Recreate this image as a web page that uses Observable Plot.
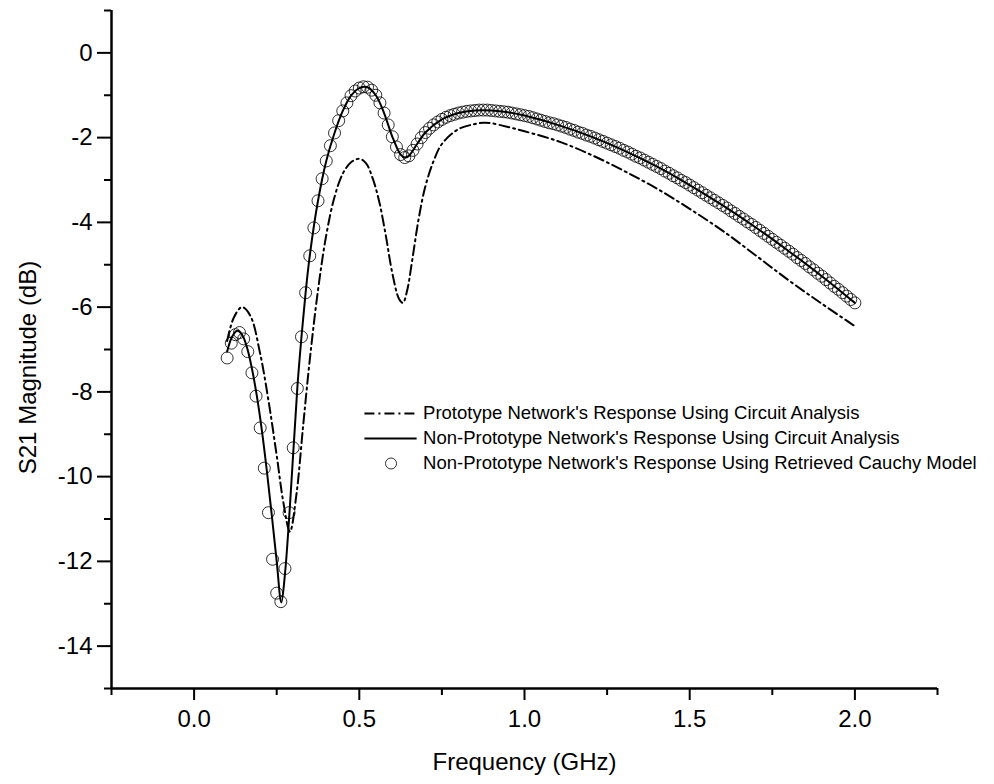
<!DOCTYPE html>
<html><head><meta charset="utf-8">
<script src="https://cdn.jsdelivr.net/npm/d3@7"></script>
<script src="https://cdn.jsdelivr.net/npm/@observablehq/plot@0.6"></script>
<style>
html,body{margin:0;padding:0;background:#fff;}
</style>
</head><body>
<div id="chart"></div>
<script>
// ---- data ----
const xTicksMajor = [0, 0.5, 1.0, 1.5, 2.0];
const xTicksMinor = [-0.25, 0.25, 0.75, 1.25, 1.75, 2.25];
const yTicksMajor = [0, -2, -4, -6, -8, -10, -12, -14];
const yTicksMinor = [1, -1, -3, -5, -7, -9, -11, -13, -15];

const seriesNames = [
  "Prototype Network's Response Using Circuit Analysis",
  "Non-Prototype Network's Response Using Circuit Analysis",
  "Non-Prototype Network's Response Using Retrieved Cauchy Model"
];

// Prototype network (dash-dot)
const protoFreq = [0.10,0.12,0.145,0.17,0.20,0.225,0.25,0.27,0.29,0.31,0.33,0.35,0.375,0.40,0.425,0.45,0.475,0.50,0.52,0.54,0.56,0.58,0.60,0.62,0.632,0.645,0.66,0.68,0.70,0.725,0.75,0.80,0.85,0.875,0.90,0.95,1.00,1.10,1.20,1.30,1.40,1.50,1.60,1.70,1.80,1.90,2.00];
const protoMag  = [-6.8,-6.25,-6.0,-6.2,-7.1,-8.2,-9.5,-10.6,-11.3,-10.4,-8.8,-7.25,-5.6,-4.3,-3.4,-2.85,-2.58,-2.5,-2.6,-2.95,-3.5,-4.3,-5.2,-5.8,-5.9,-5.6,-4.9,-3.9,-3.15,-2.55,-2.15,-1.8,-1.68,-1.65,-1.66,-1.75,-1.85,-2.08,-2.4,-2.78,-3.2,-3.68,-4.2,-4.78,-5.37,-5.92,-6.45];

// Non-prototype network, circuit analysis (solid)
const solidFreq = [0.10,0.115,0.13,0.145,0.16,0.175,0.19,0.205,0.22,0.235,0.25,0.264,0.275,0.29,0.3125,0.325,0.3375,0.35,0.375,0.40,0.425,0.45,0.475,0.50,0.525,0.55,0.575,0.60,0.625,0.6375,0.65,0.675,0.70,0.75,0.80,0.85,0.90,0.95,1.00,1.10,1.20,1.30,1.40,1.50,1.60,1.70,1.80,1.90,2.00];
const solidMag  = [-7.05,-6.7,-6.56,-6.65,-6.95,-7.45,-8.1,-8.9,-9.85,-10.9,-12.0,-12.97,-12.3,-10.7,-7.9,-6.7,-5.66,-4.79,-3.49,-2.55,-1.89,-1.37,-1.01,-0.83,-0.81,-1.0,-1.42,-1.98,-2.4,-2.47,-2.43,-2.15,-1.88,-1.57,-1.42,-1.36,-1.36,-1.4,-1.48,-1.7,-1.97,-2.3,-2.68,-3.12,-3.6,-4.12,-4.68,-5.27,-5.9];

// Non-prototype network, retrieved Cauchy model (circles)
const cauchyFreq = [
 0.1000,0.1125,0.1250,0.1375,0.1500,0.1625,0.1750,0.1875,
 0.2000,0.2125,0.2250,0.2375,0.2500,0.2625,0.2750,0.2875,
 0.3000,0.3125,0.3250,0.3375,0.3500,0.3625,0.3750,0.3875,
 0.4000,0.4125,0.4250,0.4375,0.4500,0.4625,0.4750,0.4875,
 0.5000,0.5125,0.5250,0.5375,0.5500,0.5625,0.5750,0.5875,
 0.6000,0.6125,0.6250,0.6375,0.6500,0.6625,0.6750,0.6875,
 0.7000,0.7125,0.7250,0.7375,0.7500,0.7625,0.7750,0.7875,
 0.8000,0.8125,0.8250,0.8375,0.8500,0.8625,0.8750,0.8875,
 0.9000,0.9125,0.9250,0.9375,0.9500,0.9625,0.9750,0.9875,
 1.0000,1.0125,1.0250,1.0375,1.0500,1.0625,1.0750,1.0875,
 1.1000,1.1125,1.1250,1.1375,1.1500,1.1625,1.1750,1.1875,
 1.2000,1.2125,1.2250,1.2375,1.2500,1.2625,1.2750,1.2875,
 1.3000,1.3125,1.3250,1.3375,1.3500,1.3625,1.3750,1.3875,
 1.4000,1.4125,1.4250,1.4375,1.4500,1.4625,1.4750,1.4875,
 1.5000,1.5125,1.5250,1.5375,1.5500,1.5625,1.5750,1.5875,
 1.6000,1.6125,1.6250,1.6375,1.6500,1.6625,1.6750,1.6875,
 1.7000,1.7125,1.7250,1.7375,1.7500,1.7625,1.7750,1.7875,
 1.8000,1.8125,1.8250,1.8375,1.8500,1.8625,1.8750,1.8875,
 1.9000,1.9125,1.9250,1.9375,1.9500,1.9625,1.9750,1.9875,
 2.0000];
const cauchyMag = [
 -7.2,-6.85,-6.65,-6.6,-6.75,-7.05,-7.55,-8.1,
 -8.85,-9.8,-10.85,-11.95,-12.75,-12.95,-12.17,-10.85,
 -9.32,-7.92,-6.7,-5.66,-4.79,-4.13,-3.49,-2.97,
 -2.55,-2.19,-1.89,-1.6,-1.37,-1.18,-1.01,-0.9,
 -0.83,-0.8,-0.81,-0.88,-1.0,-1.18,-1.42,-1.7,
 -1.98,-2.22,-2.4,-2.47,-2.43,-2.3,-2.15,-2.0,
 -1.88,-1.78,-1.7,-1.63,-1.57,-1.52,-1.48,-1.45,
 -1.42,-1.4,-1.38,-1.37,-1.36,-1.35,-1.35,-1.35,
 -1.36,-1.37,-1.38,-1.39,-1.4,-1.42,-1.44,-1.46,
 -1.48,-1.5,-1.53,-1.56,-1.59,-1.62,-1.65,-1.67,
 -1.7,-1.73,-1.76,-1.8,-1.83,-1.87,-1.9,-1.94,
 -1.97,-2.01,-2.05,-2.09,-2.13,-2.17,-2.21,-2.25,
 -2.3,-2.34,-2.39,-2.44,-2.48,-2.53,-2.58,-2.63,
 -2.68,-2.73,-2.79,-2.84,-2.9,-2.95,-3.01,-3.06,
 -3.12,-3.18,-3.24,-3.3,-3.36,-3.42,-3.48,-3.54,
 -3.6,-3.66,-3.73,-3.79,-3.86,-3.92,-3.99,-4.05,
 -4.12,-4.19,-4.26,-4.33,-4.4,-4.47,-4.54,-4.61,
 -4.68,-4.75,-4.83,-4.9,-4.97,-5.05,-5.12,-5.2,
 -5.27,-5.35,-5.43,-5.51,-5.58,-5.66,-5.74,-5.82,
 -5.9];

// ---- build tables ----
const proto = protoFreq.map((f, i) => ({f, v: protoMag[i]}));
const solid = solidFreq.map((f, i) => ({f, v: solidMag[i]}));
const cauchy = cauchyFreq.map((f, i) => ({f, v: cauchyMag[i]}));

// legend placement (data coordinates)
const legX1 = 0.517, legX2 = 0.675, legTextX = 0.693, legCircleX = 0.596;
const legRows = [-8.51, -9.10, -9.69];

const font = "'Liberation Sans', Arial, Helvetica, sans-serif";
const DASHDOT = "10,4,2,4";

const chart = Plot.plot({
  width: 994,
  height: 784,
  marginLeft: 111,
  marginRight: 57,
  marginTop: 10,
  marginBottom: 96,
  style: {fontFamily: font, fontSize: "24px", color: "black", background: "white", overflow: "visible"},
  x: {domain: [-0.25, 2.25]},
  y: {domain: [-15, 1]},
  marks: [
    // minor ticks
    Plot.axisX({ticks: xTicksMinor, tickSize: 7, tickFormat: () => "", strokeWidth: 2, label: null}),
    Plot.axisY({ticks: yTicksMinor, tickSize: 7, tickFormat: () => "", strokeWidth: 2, label: null}),
    // major ticks
    Plot.axisX({ticks: xTicksMajor, tickSize: 12, tickPadding: 9, tickFormat: d => d.toFixed(1), strokeWidth: 2, fontSize: 24, label: null}),
    Plot.axisY({ticks: yTicksMajor, tickSize: 14, tickPadding: 5, tickFormat: d => String(d), strokeWidth: 2, fontSize: 24, label: null}),
    // axis lines
    Plot.ruleY([-15], {strokeWidth: 2.5}),
    Plot.ruleX([-0.25], {strokeWidth: 2.5}),
    // axis titles
    Plot.text(["Frequency (GHz)"], {frameAnchor: "bottom", dy: 74, fontSize: 24, lineAnchor: "middle", text: d => d}),
    Plot.text(["S21 Magnitude (dB)"], {frameAnchor: "left", dx: -83, dy: 18, rotate: -90, textAnchor: "middle", lineAnchor: "middle", fontSize: 24, text: d => d}),
    // data
    Plot.dot(cauchy, {x: "f", y: "v", r: 6, stroke: "black", strokeWidth: 0.8, fill: "none"}),
    Plot.line(proto, {x: "f", y: "v", curve: "catmull-rom", stroke: "black", strokeWidth: 2, strokeDasharray: DASHDOT}),
    Plot.line(solid, {x: "f", y: "v", curve: "catmull-rom", stroke: "black", strokeWidth: 2}),
    // legend
    Plot.ruleY([legRows[0]], {x1: legX1, x2: legX2, stroke: "black", strokeWidth: 2, strokeDasharray: DASHDOT}),
    Plot.ruleY([legRows[1]], {x1: legX1, x2: legX2, stroke: "black", strokeWidth: 2}),
    Plot.dot([legRows[2]], {x: () => legCircleX, y: d => d, r: 5.5, stroke: "black", strokeWidth: 0.8, fill: "none"}),
    Plot.text(seriesNames, {x: () => legTextX, y: (d, i) => legRows[i], text: d => d, textAnchor: "start", fontSize: 18.5, lineAnchor: "middle"})
  ]
});
document.getElementById("chart").appendChild(chart);
</script>
</body></html>
